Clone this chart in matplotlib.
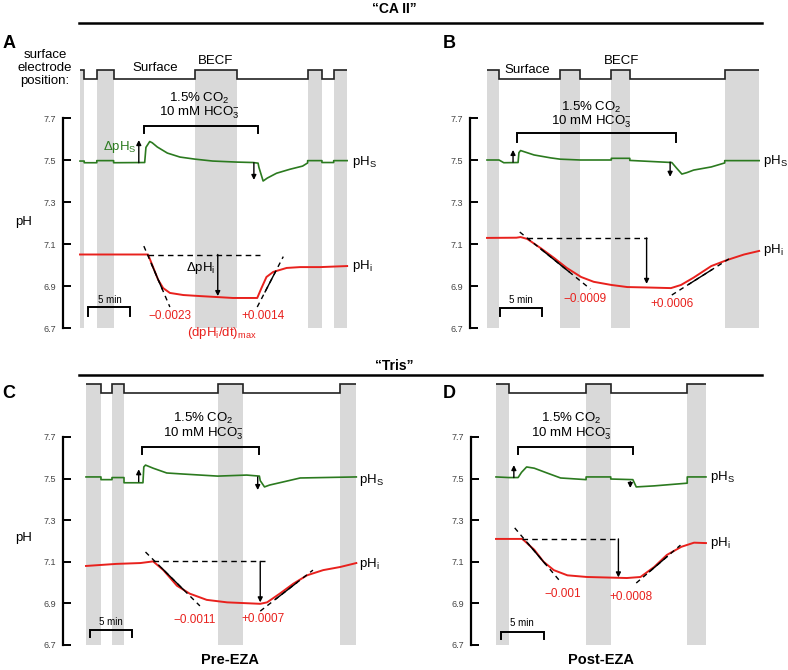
"""
Surface pH / intracellular pH traces, CA II vs Tris oocytes.
"""

import matplotlib

matplotlib.use("Agg")
import matplotlib.pyplot as plt
from matplotlib.lines import Line2D

plt.rcParams["font.family"] = ["Liberation Sans", "DejaVu Sans"]
plt.rcParams["mathtext.fontset"] = "custom"
plt.rcParams["mathtext.rm"] = "Liberation Sans"
plt.rcParams["mathtext.it"] = "Liberation Sans:italic"

GREEN = "#2b7a1f"
RED = "#e8211d"
GRAY = "#d9d9d9"
W, H = 788, 670

# ---------------- data (time in min from trace start, pH) ----------------
# Panel A  "CA II"
A_END = 31.8
A_BECF = [(0.0, 0.5), (2.0, 4.0), (13.7, 18.7), (27.1, 28.8), (30.2, 31.8)]
A_CO2 = (7.6, 21.2)
A_PHS_T = [0, 0.5, 0.5, 2.0, 2.0, 4.0, 4.0, 7.7, 7.85, 8.3, 8.6, 9.2, 10.4,
           11.9, 13.7, 15.8, 18.7, 20.6, 21.2, 21.3, 21.8, 22.3, 23.4, 25.0,
           26.5, 27.1, 27.1, 28.8, 28.8, 30.2, 30.2, 31.8]
A_PHS = [7.495, 7.495, 7.487, 7.487, 7.497, 7.497, 7.487, 7.488, 7.56, 7.588,
         7.582, 7.562, 7.533, 7.514, 7.504, 7.495, 7.49, 7.488, 7.485, 7.465,
         7.40, 7.414, 7.437, 7.456, 7.471, 7.486, 7.497, 7.497, 7.488, 7.488,
         7.497, 7.497]
A_PHI_T = [0, 8.1, 8.7, 9.3, 9.9, 10.7, 12.3, 14.3, 18.2, 21.1, 21.6, 22.2,
           23.0, 24.6, 26.2, 28.6, 31.8]
A_PHI = [7.05, 7.05, 6.99, 6.93, 6.89, 6.867, 6.857, 6.852, 6.843, 6.843,
         6.89, 6.943, 6.967, 6.986, 6.99, 6.99, 6.995]
A_DPHI = (8.1, 21.4, 16.4, 7.05, 6.852)  # dashed from, to, arrow t, level, nadir
A_UP = (7.0, 7.487, 7.595)
A_DOWN = (20.7, 7.487, 7.405)
A_TAN = [[(7.6, 7.09), (10.7, 6.80)], [(21.1, 6.80), (24.2, 7.04)]]
A_RATES = ["\u22120.0023", "+0.0014"]

# Panel B  "CA II"
B_END = 32.4
B_BECF = [(0.0, 1.43), (8.7, 11.1), (14.8, 17.0), (28.3, 32.4)]
B_CO2 = (3.6, 22.5)
B_PHS_T = [0, 1.43, 2.0, 3.7, 3.8, 4.0, 5.6, 7.6, 8.7, 11.1, 14.3, 14.8, 14.8,
           17.0, 17.0, 22.0, 22.6, 23.2, 23.8, 24.6, 26.7, 28.3, 28.3, 32.4]
B_PHS = [7.5, 7.5, 7.487, 7.488, 7.535, 7.545, 7.524, 7.51, 7.504, 7.5, 7.5,
         7.5, 7.508, 7.508, 7.498, 7.488, 7.46, 7.433, 7.44, 7.452, 7.467,
         7.486, 7.497, 7.497]
B_PHI_T = [0, 3.5, 4.0, 4.8, 6.4, 8.0, 9.5, 11.2, 12.7, 14.8, 16.7, 19.0,
           21.9, 23.1, 24.6, 26.7, 28.6, 30.6, 32.4]
B_PHI = [7.129, 7.13, 7.133, 7.124, 7.08, 7.033, 6.986, 6.943, 6.92, 6.905,
         6.895, 6.893, 6.89, 6.905, 6.94, 6.995, 7.024, 7.05, 7.067]
B_DPHI = (4.8, 19.0, 19.0, 7.129, 6.91)
B_UP = (3.1, 7.49, 7.548)
B_DOWN = (21.8, 7.49, 7.42)
B_TAN = [[(3.9, 7.157), (12.3, 6.886)], [(22.0, 6.857), (28.8, 7.029)]]
B_RATES = ["\u22120.0009", "+0.0006"]

# Panel C  "Tris", pre-EZA
C_END = 31.8
C_BECF = [(0.0, 1.76), (3.06, 4.47), (15.5, 18.5), (29.9, 31.8)]
C_CO2 = (6.6, 20.4)
C_PHS_T = [0, 1.76, 1.76, 3.06, 3.06, 4.47, 4.47, 6.7, 6.8, 7.0, 7.9, 9.5,
           11.4, 15.5, 18.9, 20.4, 20.5, 21.0, 21.6, 23.2, 25.2, 31.8]
C_PHS = [7.508, 7.508, 7.495, 7.495, 7.505, 7.505, 7.48, 7.48, 7.556, 7.565,
         7.55, 7.527, 7.522, 7.512, 7.517, 7.512, 7.49, 7.46, 7.469, 7.484,
         7.503, 7.508]
C_PHI_T = [0, 3.6, 6.4, 7.9, 9.1, 10.7, 12.2, 14.2, 16.6, 20.5, 21.3, 22.8,
           24.4, 26.0, 27.9, 29.9, 31.8]
C_PHI = [7.08, 7.09, 7.094, 7.102, 7.06, 6.985, 6.947, 6.917, 6.905, 6.898,
         6.905, 6.947, 6.995, 7.035, 7.06, 7.075, 7.094]
C_DPHI = (7.9, 21.1, 20.5, 7.102, 6.905)
C_UP = (6.2, 7.485, 7.545)
C_DOWN = (20.2, 7.508, 7.445)
C_TAN = [[(7.0, 7.147), (13.4, 6.888)], [(20.5, 6.863), (26.7, 7.06)]]
C_RATES = ["\u22120.0011", "+0.0007"]

# Panel D  "Tris", post-EZA
D_END = 24.7
D_BECF = [(0.0, 1.53), (10.6, 13.5), (22.5, 24.7)]
D_CO2 = (2.6, 16.1)
D_PHS_T = [0, 1.53, 2.6, 3.0, 3.6, 4.5, 6.0, 7.6, 10.6, 10.6, 13.5, 13.5,
           16.1, 16.5, 18.6, 22.5, 22.5, 24.7]
D_PHS = [7.508, 7.505, 7.505, 7.53, 7.556, 7.55, 7.527, 7.503, 7.495, 7.508,
         7.508, 7.498, 7.495, 7.46, 7.465, 7.478, 7.508, 7.508]
D_PHI_T = [0, 3.1, 4.5, 5.6, 6.8, 8.4, 10.7, 15.4, 17.0, 18.6, 20.1, 21.8,
           23.3, 24.7]
D_PHI = [7.21, 7.21, 7.158, 7.10, 7.06, 7.035, 7.027, 7.022, 7.027, 7.075,
         7.133, 7.172, 7.192, 7.19]
D_DPHI = (3.1, 14.4, 14.4, 7.21, 7.025)
D_UP = (2.1, 7.505, 7.565)
D_DOWN = (15.8, 7.485, 7.455)
D_TAN = [[(2.2, 7.263), (7.4, 7.013)], [(16.5, 6.998), (21.7, 7.18)]]
D_RATES = ["\u22120.001", "+0.0008"]

PH_TICKS = [6.7, 6.9, 7.1, 7.3, 7.5, 7.7]
SCALE_MIN = 5


def make_axes(fig, t0_px, ppm, spine_px, right_px, y77_px, ppp, ylo, yhi):
    """Axes whose data units are min / pH, placed by pixel geometry."""
    top_px = y77_px - (yhi - 7.7) * ppp
    bot_px = y77_px + (7.7 - ylo) * ppp
    ax = fig.add_axes([spine_px / W, 1 - bot_px / H,
                       (right_px - spine_px) / W, (bot_px - top_px) / H])
    ax.set_xlim((spine_px - t0_px) / ppm, (right_px - t0_px) / ppm)
    ax.set_ylim(ylo, yhi)
    ax.patch.set_visible(False)
    for s in ["top", "right", "bottom"]:
        ax.spines[s].set_visible(False)
    ax.spines["left"].set_bounds(PH_TICKS[0], PH_TICKS[-1])
    ax.spines["left"].set_linewidth(1.6)
    ax.set_xticks([])
    ax.set_yticks(PH_TICKS)
    ax.set_yticklabels([f"{v:.1f}" for v in PH_TICKS])
    ax.tick_params(axis="y", direction="in", length=6, width=1.4,
                   labelsize=6.5, labelcolor="#444444", pad=5)
    return ax


def draw_panel(ax, end, becf, co2, phs_t, phs, phi_t, phi, dphi, up, down,
               tangents, rates, elec, lay):
    hi, lo = elec
    # gray BECF bands + electrode position trace
    for s, e in becf:
        ax.fill_between([s, e], PH_TICKS[0], hi, color=GRAY, lw=0, zorder=0)
    edges = sorted(set([0.0, end] + [v for iv in becf for v in iv]))
    vals = []
    for a, b in zip(edges[:-1], edges[1:]):
        mid = 0.5 * (a + b)
        vals.append(hi if any(s <= mid <= e for s, e in becf) else lo)
    ax.stairs(vals, edges, baseline=None, color="#222222", lw=1.2)

    # CO2 bracket + label
    btop, bleg = lay["bracket"]
    ax.plot([co2[0], co2[0], co2[1], co2[1]], [bleg, btop, btop, bleg],
            color="k", lw=1.4, solid_joinstyle="miter")
    tx, ty1, ty2 = lay["co2_text"]
    ax.text(tx, ty1, "1.5% CO$_\\mathregular{2}$", ha="center", va="center",
            fontsize=9.5)
    ax.text(tx, ty2, "10 mM HCO$_\\mathregular{3}^\\mathregular{-}$",
            ha="center", va="center", fontsize=9.5)

    # traces
    ax.plot(phs_t, phs, color=GREEN, lw=1.2, zorder=3)
    ax.plot(phi_t, phi, color=RED, lw=1.4, zorder=3)

    # delta pHi construction
    ax.plot([dphi[0], dphi[1]], [dphi[3], dphi[3]], color="k", lw=1.0,
            dashes=(4, 3), zorder=4)
    arrow = dict(arrowstyle="-|>", color="k", lw=1.0, mutation_scale=7,
                 shrinkA=0, shrinkB=0)
    ax.annotate("", xy=(dphi[2], dphi[4]), xytext=(dphi[2], dphi[3]),
                arrowprops=arrow, zorder=5)
    ax.annotate("", xy=(up[0], up[2]), xytext=(up[0], up[1]), arrowprops=arrow)
    ax.annotate("", xy=(down[0], down[2]), xytext=(down[0], down[1]),
                arrowprops=arrow)

    # max slope tangents: dashed, solid where they lie on the trace
    for (x0, y0), (x1, y1) in tangents:
        ax.plot([x0, x1], [y0, y1], color="k", lw=1.0, dashes=(3.5, 3),
                zorder=4)
        ax.plot([x0 + 0.3 * (x1 - x0), x0 + 0.7 * (x1 - x0)],
                [y0 + 0.3 * (y1 - y0), y0 + 0.7 * (y1 - y0)],
                color="k", lw=1.0, zorder=4)
    for (x, y), s in zip(lay["rates"], rates):
        ax.text(x, y, s, ha="center", va="center", fontsize=8.5, color=RED)

    # 5 min scale bar
    sx, sy, sleg, sty = lay["scale"]
    ax.plot([sx, sx, sx + SCALE_MIN, sx + SCALE_MIN], [sleg, sy, sy, sleg],
            color="k", lw=1.4, solid_joinstyle="miter")
    ax.text(sx + SCALE_MIN / 2, sty, f"{SCALE_MIN} min", ha="center",
            va="center", fontsize=7)

    # trace names
    lx, ys, yi = lay["names"]
    ax.text(lx, ys, "pH$_\\mathregular{S}$", ha="left", va="center",
            fontsize=9.5)
    ax.text(lx, yi, "pH$_\\mathregular{i}$", ha="left", va="center",
            fontsize=9.5)


fig = plt.figure(figsize=(W / 100, H / 100), dpi=100)

axA = make_axes(fig, 80, 8.4, 63, 392, 118, 210, 6.6, 8.02)
axB = make_axes(fig, 487, 8.4, 470, 786, 118, 210, 6.6, 8.02)
axC = make_axes(fig, 86, 8.5, 63, 392, 437, 208, 6.6, 8.0)
axD = make_axes(fig, 496, 8.5, 471, 786, 437, 208, 6.6, 8.0)

draw_panel(axA, A_END, A_BECF, A_CO2, A_PHS_T, A_PHS, A_PHI_T, A_PHI, A_DPHI,
           A_UP, A_DOWN, A_TAN, A_RATES, (7.929, 7.886),
           dict(bracket=(7.662, 7.629), co2_text=(14.2, 7.795, 7.724),
                rates=[(10.7, 6.757), (21.8, 6.757)],
                scale=(1.0, 6.80, 6.757, 6.833), names=(32.4, 7.49, 6.995)))
draw_panel(axB, B_END, B_BECF, B_CO2, B_PHS_T, B_PHS, B_PHI_T, B_PHI, B_DPHI,
           B_UP, B_DOWN, B_TAN, B_RATES, (7.929, 7.886),
           dict(bracket=(7.629, 7.586), co2_text=(12.4, 7.752, 7.681),
                rates=[(11.7, 6.838), (22.0, 6.814)],
                scale=(1.55, 6.795, 6.757, 6.833), names=(32.9, 7.495, 7.071)))
draw_panel(axC, C_END, C_BECF, C_CO2, C_PHS_T, C_PHS, C_PHI_T, C_PHI, C_DPHI,
           C_UP, C_DOWN, C_TAN, C_RATES, (7.955, 7.912),
           dict(bracket=(7.652, 7.618), co2_text=(13.8, 7.791, 7.714),
                rates=[(12.8, 6.82), (20.8, 6.825)],
                scale=(0.47, 6.772, 6.738, 6.811), names=(32.1, 7.493, 7.09)))
draw_panel(axD, D_END, D_BECF, D_CO2, D_PHS_T, D_PHS, D_PHI_T, D_PHI, D_DPHI,
           D_UP, D_DOWN, D_TAN, D_RATES, (7.955, 7.912),
           dict(bracket=(7.652, 7.618), co2_text=(8.9, 7.791, 7.714),
                rates=[(7.9, 6.945), (15.9, 6.93)],
                scale=(0.6, 6.763, 6.729, 6.806), names=(25.2, 7.508, 7.19)))

# extra annotations of panel A
axA.text(6.8, 7.562, "\u0394pH$_\\mathregular{S}$", ha="right", va="center",
         fontsize=9.5, color=GREEN)
axA.text(16.1, 6.986, "\u0394pH$_\\mathregular{i}$", ha="right",
         va="center", fontsize=9.5)
axA.text(16.9, 6.676, "(dpH$_\\mathregular{i}$/dt)$_\\mathregular{max}$",
         ha="center", va="center", fontsize=9.5, color=RED)
axA.text(8.9, 7.938, "Surface", ha="center", va="center", fontsize=9.5)
axA.text(16.1, 7.971, "BECF", ha="center", va="center", fontsize=9.5)
axB.text(4.8, 7.929, "Surface", ha="center", va="center", fontsize=9.5)
axB.text(16.0, 7.971, "BECF", ha="center", va="center", fontsize=9.5)

# figure-level labels
fig.text(45 / W, 1 - 68 / H, "surface\nelectrode\nposition:", ha="center",
         va="center", fontsize=9.5, linespacing=1.15)
for x, y in [(24, 222), (24, 538)]:
    fig.text(x / W, 1 - y / H, "pH", ha="center", va="center", fontsize=9.5)
for s, x, y in [("A", 9, 43), ("B", 449, 43), ("C", 9, 393), ("D", 449, 393)]:
    fig.text(x / W, 1 - y / H, s, ha="center", va="center", fontsize=13,
             fontweight="bold")
for s, y, ly in [("\u201cCA II\u201d", 9, 23), ("\u201cTris\u201d", 366, 375)]:
    fig.text(0.5, 1 - y / H, s, ha="center", va="center", fontsize=10,
             fontweight="bold")
    fig.add_artist(Line2D([79 / W, 762 / W], [1 - ly / H, 1 - ly / H],
                          transform=fig.transFigure, color="k", lw=1.8))
fig.text(230 / W, 1 - 660 / H, "Pre-EZA", ha="center", va="center",
         fontsize=10.5, fontweight="bold")
fig.text(601 / W, 1 - 660 / H, "Post-EZA", ha="center", va="center",
         fontsize=10.5, fontweight="bold")

fig.savefig("out.png", dpi=100)
